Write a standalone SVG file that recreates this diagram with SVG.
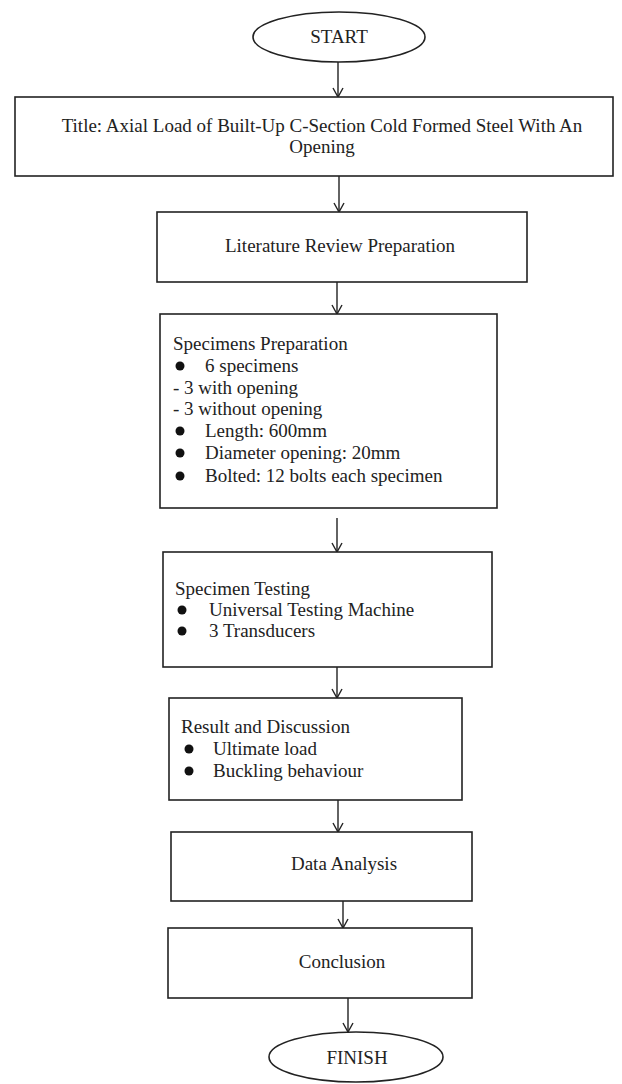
<svg xmlns="http://www.w3.org/2000/svg" width="622" height="1084" viewBox="0 0 622 1084">
<style>
.box{fill:#fff;stroke:#222;stroke-width:1.6}
.t{font-family:"Liberation Serif","Times New Roman",serif;font-size:19px;fill:#222}
.c{text-anchor:middle}
.con{stroke:#222;stroke-width:1.4;fill:none}
.dot{fill:#111}
</style>
<defs>
<marker id="ah" markerWidth="12" markerHeight="12" refX="10" refY="6" orient="auto" markerUnits="userSpaceOnUse">
<path d="M1,1 L10,6 L1,11" fill="none" stroke="#222" stroke-width="1.4"/>
</marker>
</defs>
<rect width="622" height="1084" fill="#fff"/>
<g id="connectors">
<line class="con" x1="338" y1="62" x2="338" y2="97" marker-end="url(#ah)"/>
<line class="con" x1="339" y1="176" x2="339" y2="212" marker-end="url(#ah)"/>
<line class="con" x1="337" y1="282" x2="337" y2="314" marker-end="url(#ah)"/>
<line class="con" x1="337" y1="518" x2="337" y2="552" marker-end="url(#ah)"/>
<line class="con" x1="337" y1="667" x2="337" y2="698" marker-end="url(#ah)"/>
<line class="con" x1="338" y1="800" x2="338" y2="832" marker-end="url(#ah)"/>
<line class="con" x1="343" y1="901" x2="343" y2="928" marker-end="url(#ah)"/>
<line class="con" x1="348" y1="998" x2="348" y2="1032" marker-end="url(#ah)"/>
</g>
<g id="start">
<ellipse class="box" cx="339" cy="37" rx="86" ry="25"/>
<text class="t c" x="339" y="43">START</text>
</g>
<g id="title">
<rect class="box" x="15" y="97" width="598" height="79"/>
<text class="t c" x="322" y="132">Title: Axial Load of Built-Up C-Section Cold Formed Steel With An</text>
<text class="t c" x="322" y="153">Opening</text>
</g>
<g id="literature">
<rect class="box" x="157" y="212" width="370" height="70"/>
<text class="t c" x="340" y="252">Literature Review Preparation</text>
</g>
<g id="specimens">
<rect class="box" x="160" y="314" width="337" height="194"/>
<text class="t" x="173" y="350">Specimens Preparation</text>
<circle class="dot" cx="180" cy="366" r="4.5"/>
<text class="t" x="205" y="372">6 specimens</text>
<text class="t" x="173" y="394">- 3 with opening</text>
<text class="t" x="173" y="415">- 3 without opening</text>
<circle class="dot" cx="180" cy="431" r="4.5"/>
<text class="t" x="205" y="437">Length: 600mm</text>
<circle class="dot" cx="180" cy="453" r="4.5"/>
<text class="t" x="205" y="459">Diameter opening: 20mm</text>
<circle class="dot" cx="180" cy="476" r="4.5"/>
<text class="t" x="205" y="482">Bolted: 12 bolts each specimen</text>
</g>
<g id="testing">
<rect class="box" x="163" y="552" width="329" height="115"/>
<text class="t" x="175" y="595">Specimen Testing</text>
<circle class="dot" cx="182" cy="610" r="4.5"/>
<text class="t" x="209" y="616">Universal Testing Machine</text>
<circle class="dot" cx="182" cy="631" r="4.5"/>
<text class="t" x="209" y="637">3 Transducers</text>
</g>
<g id="result">
<rect class="box" x="169" y="698" width="293" height="102"/>
<text class="t" x="181" y="733">Result and Discussion</text>
<circle class="dot" cx="189" cy="749" r="4.5"/>
<text class="t" x="213" y="755">Ultimate load</text>
<circle class="dot" cx="189" cy="771" r="4.5"/>
<text class="t" x="213" y="777">Buckling behaviour</text>
</g>
<g id="data">
<rect class="box" x="171" y="832" width="301" height="69"/>
<text class="t c" x="344" y="870">Data Analysis</text>
</g>
<g id="conclusion">
<rect class="box" x="168" y="928" width="304" height="70"/>
<text class="t c" x="342" y="968">Conclusion</text>
</g>
<g id="finish">
<ellipse class="box" cx="356" cy="1057" rx="87" ry="25"/>
<text class="t c" x="357" y="1064">FINISH</text>
</g>
</svg>
